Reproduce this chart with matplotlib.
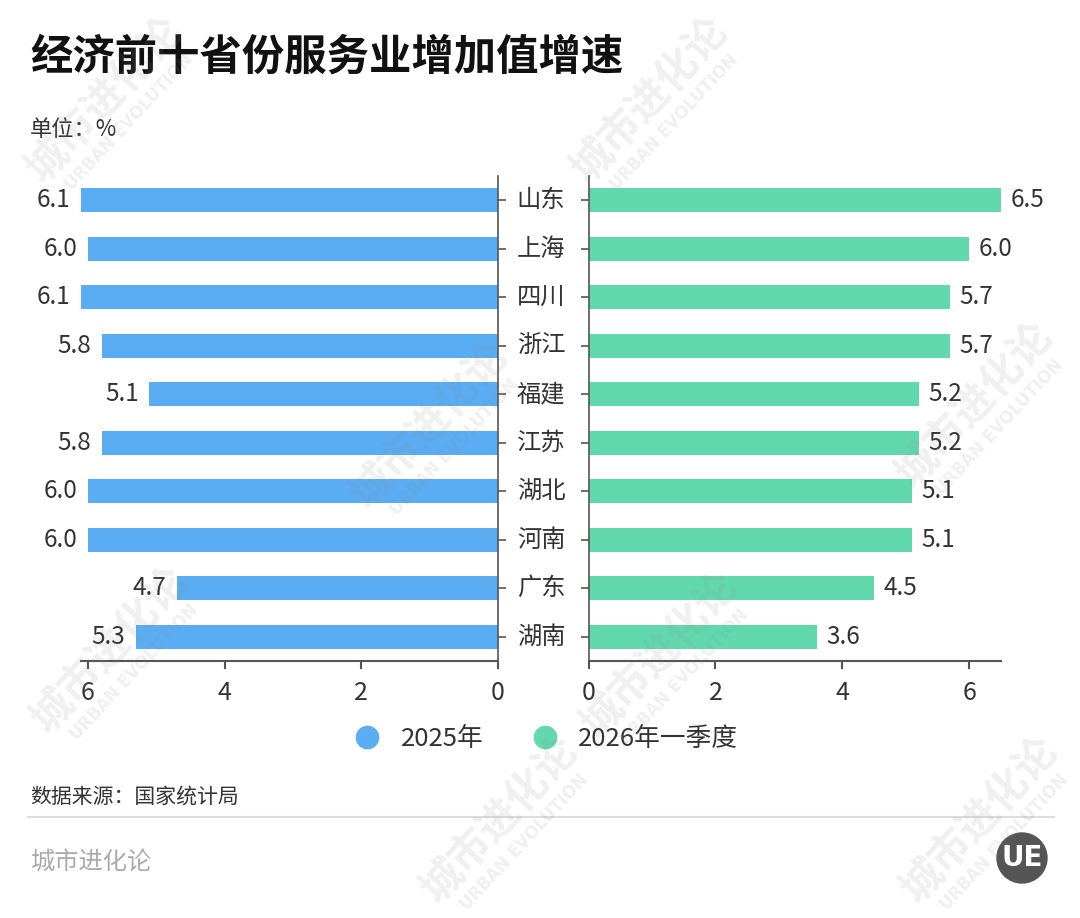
import matplotlib
matplotlib.use("Agg")
import matplotlib.pyplot as plt
from matplotlib.lines import Line2D
from matplotlib.patches import Ellipse
from matplotlib import transforms

plt.rcParams['font.family'] = ['Noto Sans CJK SC', 'DejaVu Sans']

# 数据
provinces = ["山东", "上海", "四川", "浙江", "福建", "江苏", "湖北", "河南", "广东", "湖南"]
growth_2025 = [6.1, 6.0, 6.1, 5.8, 5.1, 5.8, 6.0, 6.0, 4.7, 5.3]
growth_2026q1 = [6.5, 6.0, 5.7, 5.7, 5.2, 5.2, 5.1, 5.1, 4.5, 3.6]
series_names = ["2025年", "2026年一季度"]

blue = "#5aadf3"
green = "#62d9ad"
axis_c = "#555555"
text_c = "#333333"

W, H = 1080, 918
fig = plt.figure(figsize=(W / 100, H / 100), dpi=100)
fig.patch.set_facecolor("white")


def fx(px):
    return px / W


def fy(py):
    return 1 - py / H


ax1 = fig.add_axes([fx(81), fy(661), fx(498 - 81), (661 - 176) / H])
ax2 = fig.add_axes([fx(588.6), fy(661), fx(1001 - 588.6), (661 - 176) / H])

pos = list(range(len(provinces)))

ax1.barh(pos, growth_2025, height=0.5, color=blue, zorder=2)
ax2.barh(pos, growth_2026q1, height=0.5, color=green, zorder=2)

ax1.set_xlim(max(growth_2025), 0)
ax2.set_xlim(0, max(growth_2026q1))
for ax in (ax1, ax2):
    ax.set_ylim(len(provinces) - 0.5, -0.5)
    ax.set_yticks(pos)
    ax.set_yticklabels([])
    ax.set_xticks([0, 2, 4, 6])
    ax.spines['top'].set_visible(False)
    ax.spines['bottom'].set_color(axis_c)
    ax.spines['bottom'].set_linewidth(1.5)
    ax.tick_params(axis='x', length=6, width=1.5, color=axis_c,
                   labelsize=18, labelcolor=text_c, pad=8)
    ax.tick_params(axis='y', length=6, width=1.2, color=axis_c)
    ax.set_facecolor("none")

ax1.spines['left'].set_visible(False)
ax1.spines['right'].set_color(axis_c)
ax1.spines['right'].set_linewidth(1.2)
ax1.yaxis.tick_right()
ax2.spines['right'].set_visible(False)
ax2.spines['left'].set_color(axis_c)
ax2.spines['left'].set_linewidth(1.2)

for i, v in enumerate(growth_2025):
    ax1.text(v + 0.15, i, f"{v:.1f}", ha='right', va='center',
             fontsize=17.5, color=text_c)
for i, v in enumerate(growth_2026q1):
    ax2.text(v + 0.15, i, f"{v:.1f}", ha='left', va='center',
             fontsize=17.5, color=text_c)

# 中间省份名称
trans = transforms.blended_transform_factory(fig.transFigure, ax2.transData)
for i, name in enumerate(provinces):
    fig.text(fx(541), i, name, transform=trans, ha='center', va='center',
             fontsize=17.5, color=text_c)

# 图例
handles = [Line2D([], [], marker='o', linestyle='none', markersize=16,
                  markerfacecolor=c, markeredgecolor=c) for c in (blue, green)]
fig.legend(handles, series_names, loc='center', bbox_to_anchor=(0.5, fy(739)),
           ncol=2, frameon=False, fontsize=18.5, handletextpad=0.3,
           columnspacing=1.4, labelcolor=text_c)

# 标题等文字
fig.text(fx(30), fy(58), "经济前十省份服务业增加值增速", fontsize=30.5,
         fontweight='bold', color="#111111", va='center')
fig.text(fx(30), fy(130), "单位：%", fontsize=16, color=text_c, va='center')
fig.text(fx(30), fy(797), "数据来源：国家统计局", fontsize=15, color=text_c, va='center')
fig.add_artist(Line2D([fx(28), fx(1054)], [fy(817), fy(817)], color="#dddddd",
                      linewidth=1.5, transform=fig.transFigure))
fig.text(fx(30), fy(862), "城市进化论", fontsize=17.5, color="#aaaaaa", va='center')

# logo
fig.add_artist(Ellipse((fx(1022), fy(858)), fx(50), 50 / H, color="#555555",
                       transform=fig.transFigure))
fig.text(fx(1022), fy(858), "UE", fontsize=20, fontweight='bold', color="white",
         ha='center', va='center', family='DejaVu Sans')

# 水印
marks = [(105, 100), (650, 100), (430, 425), (975, 405), (110, 650),
         (660, 655), (500, 820), (980, 820)]
for x, y in marks:
    fig.text(fx(x), fy(y), "城市进化论", fontsize=30, fontweight='bold',
             color="#888888", alpha=0.13, rotation=47, rotation_mode='anchor',
             ha='center', va='center', zorder=10)
    fig.text(fx(x + 24), fy(y + 22), "URBAN EVOLUTION", fontsize=12,
             fontweight='bold', color="#888888", alpha=0.13, rotation=47,
             rotation_mode='anchor', ha='center', va='center', zorder=10,
             family='DejaVu Sans')

fig.savefig("out.png", dpi=100, facecolor="white")
